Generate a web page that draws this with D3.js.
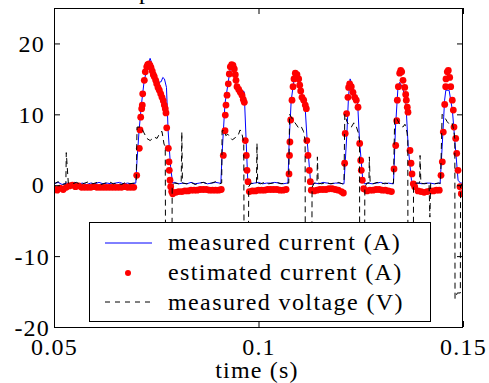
<!DOCTYPE html>
<html><head><meta charset="utf-8">
<script src="https://cdn.jsdelivr.net/npm/d3@7"></script>
<style>body{margin:0;background:#fff} svg{display:block}</style>
</head><body><svg id="c" width="489" height="383"></svg>
<script>
// ---- data (time in ms) ----
const xTicks = [0.05, 0.1, 0.15];
const xTickLabels = ["0.05", "0.1", "0.15"];
const yTicks = [-20, -10, 0, 10, 20];
const yTickLabels = ["-20", "-10", "0", "10", "20"];
const legendLabels = ["measured current (A)", "estimated current (A)", "measured voltage (V)"];
const xLabel = "time (s)";

const measTimeMs = [
50,51,52,53,54,55,56,57,58,59,60,61,62,63,64,65,66,67,68,69,70.0,
70.3,70.8,71.4,72.0,72.7,73.5,74.3,75.5,76.2,76.6,77.0,77.5,77.9,78.5,79.0,
79.5,80.5,81.5,82.5,83.5,84.5,85.5,86.5,87.5,88.5,89.5,90.5,90.8,
91.1,91.8,93.3,94.5,95.7,96.5,97.0,97.4,
98.0,99.0,100,101,102,103,104,105,106,107,107.2,
107.5,108.0,108.8,109.0,110.2,111.4,111.9,112.7,113.1,
113.8,114.8,115.8,116.8,117.8,118.8,119.8,120.6,120.9,
121.6,122.0,122.4,123.1,124.2,124.7,125.5,125.9,
126.8,127.8,128.8,129.8,130.8,131.8,132.8,133.0,
133.5,134.1,134.5,135.2,136.0,136.6,137.4,138.0,
139,140,141,142,143,144,144.4,
144.9,145.5,145.8,146.6,147.4,148.2,148.8,149.4,150];
const measCurrent = [
0.2,0.4,0.1,0.3,0.2,0.4,0.2,0.3,0.1,0.3,0.2,0.4,0.2,0.3,0.2,0.3,0.4,0.2,0.3,0.2,0.3,
3.5,7.7,11.5,14.5,16.5,17.9,16.5,14.5,14.6,15.2,15.0,13.8,7.7,2.6,0.3,
0.4,0.2,0.3,0.2,0.4,0.2,0.3,0.4,0.2,0.3,0.4,0.3,0.3,
4.5,11.5,17.2,14.3,13.4,13.2,6.0,0.3,
0.2,0.3,0.4,0.2,0.3,0.3,0.4,0.3,0.2,0.3,0.3,
6.3,12.0,15.3,15.5,13.8,11.0,6.3,0.7,0.1,
0.3,0.2,0.4,0.3,0.2,0.3,0.3,0.2,0.2,
7.2,12.4,15.0,13.8,12.0,6.3,0.7,0.2,
0.3,0.2,0.3,0.4,0.2,0.3,0.2,0.2,
8.2,13.8,14.5,13.8,12.0,5.4,0.7,0.2,
0.3,0.2,0.3,0.3,0.2,0.3,0.2,
5.4,12.0,13.4,13.4,10.6,4.9,0.7,0.3,0.3];

const estTimeMs = [
50.0,50.75,51.5,52.25,53.0,53.75,54.5,55.25,56.0,56.75,57.5,58.25,59.0,59.75,60.5,61.25,62.0,62.75,63.5,64.25,65.0,65.75,66.5,67.25,68.0,68.75,69.5,
70.22,70.86,71.03,71.20,71.44,71.59,71.69,72.08,72.32,72.67,72.91,73.23,73.47,73.72,74.03,74.28,74.52,74.87,75.11,75.43,75.75,76.09,76.41,76.72,76.97,77.21,77.38,77.56,77.95,78.12,78.19,78.36,78.53,78.78,79.02,
79.8,80.5,81.25,82.0,82.75,83.5,84.25,85.0,85.75,86.5,87.25,88.0,88.75,89.5,90.25,90.9,
91.39,91.81,91.88,92.05,92.30,92.62,92.86,93.11,93.45,93.77,94.08,94.33,94.50,94.74,95.16,95.55,95.97,96.28,96.53,96.77,97.02,97.19,97.43,97.75,
98.5,99.25,100.0,100.75,101.5,102.25,103.0,103.75,104.5,105.25,106.0,106.75,
107.46,107.58,107.68,107.87,108.19,108.44,108.68,109.0,109.41,109.83,110.07,110.32,110.64,111.05,111.44,111.69,111.81,112.1,112.42,112.67,112.91,
113.6,114.3,115.0,115.75,116.5,117.25,118.0,118.75,119.5,120.25,120.75,
121.06,121.2,121.54,121.87,122.04,122.29,122.69,123.1,123.52,123.91,124.33,124.74,124.99,125.13,125.38,125.72,
126.5,127.25,128.0,128.75,129.5,130.25,131.0,131.75,132.5,
133.13,133.55,133.8,133.94,134.19,134.52,134.77,135.01,135.33,135.75,135.99,136.14,136.38,136.55,137.04,137.29,137.53,137.85,138.19,
139.0,139.75,140.5,141.25,142.0,142.75,143.5,144.2,
144.62,144.94,145.18,145.53,145.77,145.84,146.16,146.41,146.75,147.0,147.38,147.63,147.8,148.22,148.46,148.78,149.27,149.59];
const estCurrent = [
-0.5,-0.7,-0.4,-0.6,-0.3,-0.1,0.0,-0.2,-0.1,-0.3,-0.3,-0.3,-0.3,-0.2,-0.3,-0.3,-0.3,-0.3,-0.3,-0.3,-0.3,-0.3,-0.3,-0.2,-0.3,-0.3,-0.3,
1.4,5.2,7.8,9.6,10.8,11.3,12.9,14.8,16.0,16.7,17.0,17.1,16.9,16.6,16.1,15.6,15.3,14.8,14.3,13.8,13.4,12.9,12.4,11.9,11.3,10.8,10.2,8.1,5.2,3.3,2.1,0.7,-0.2,-0.9,-1.2,
-1.0,-0.9,-0.9,-0.8,-0.8,-0.7,-0.7,-0.7,-0.6,-0.6,-0.6,-0.7,-0.7,-0.7,-0.7,-0.6,
4.2,7.7,9.9,11.3,12.7,14.3,15.7,16.7,17.0,16.9,16.4,15.6,14.8,13.9,13.5,13.1,12.7,12.1,11.7,6.3,4.2,2.1,0.5,-0.9,
-0.8,-0.8,-0.7,-0.7,-0.7,-0.6,-0.6,-0.6,-0.6,-0.7,-0.7,-0.6,
1.6,4.2,6.1,9.2,12.0,13.9,15.0,15.8,15.6,15.0,14.1,13.3,12.4,12.0,11.3,10.8,6.3,4.2,2.1,0.5,-0.7,
-0.8,-0.7,-0.6,-0.6,-0.6,-0.5,-0.5,-0.6,-0.7,-0.9,-1.1,
3.1,7.3,10.1,12.4,13.8,14.3,13.9,13.1,12.4,12.0,11.0,5.9,3.5,2.1,0.7,-0.5,
-0.8,-0.7,-0.7,-0.6,-0.6,-0.7,-0.7,-0.8,-0.9,
2.3,5.6,9.1,12.0,13.9,15.8,16.2,16.0,14.8,13.8,12.8,12.0,11.0,10.3,4.9,3.1,1.6,0.2,-0.2,
-0.8,-0.9,-1.0,-0.9,-0.8,-0.8,-0.7,-0.7,
1.4,3.3,7.5,11.4,13.9,15.0,16.0,16.2,15.2,13.9,12.0,10.6,8.2,6.6,4.5,2.1,-0.2,-1.2];

const voltTimeMs = [
50,51,52,52.9,53.0,53.5,54.5,55.5,56.5,57.5,58.5,59.5,60.5,61.5,62.5,63.5,64.5,65.5,66.5,67.5,68.5,69.5,70.1,
70.3,71.3,71.9,72.7,73.5,74.5,75.2,75.9,76.4,76.9,77.2,77.3,78.8,78.9,
79.5,80.5,81.1,81.25,81.4,82.5,83.5,84.5,85.5,86.5,87.5,88.5,89.5,90.5,91.0,
91.1,91.6,92.0,92.5,93.0,93.6,94.3,95.0,95.5,95.9,96.4,96.5,97.5,97.6,
98.2,99.0,99.5,99.63,99.8,100.5,101.5,102.5,103.5,104.5,105.5,106.5,107.4,
107.6,108.1,108.7,109.3,109.9,110.5,111.0,111.4,111.45,113.0,113.1,
113.6,114.3,114.4,114.6,115.5,116.5,117.5,118.5,119.5,120.5,120.9,
121.1,121.6,122.1,122.7,123.3,123.9,124.4,124.7,124.75,125.9,126.0,
126.5,127.0,127.1,127.3,128.0,129.0,130.0,131.0,132.0,133.0,
133.3,133.9,134.6,135.3,135.8,136.3,136.5,136.55,137.85,137.9,
138.4,139.4,139.5,139.7,140.5,141.7,141.9,142.1,143.0,144.0,144.5,
144.9,145.5,146.1,146.8,147.4,147.8,148.0,148.05,148.6,149.35,149.4,150];
const voltage = [
0.2,0.5,0.1,0.2,4.6,0.3,0.2,0.4,0.1,0.3,0.5,0.2,0.4,0.1,0.3,0.5,0.2,0.3,0.1,0.4,0.2,0.3,0.4,
8.2,8.2,7.5,6.6,6.3,6.8,6.6,7.4,7.6,5.8,5.5,-16,-16,0.0,
0.3,0.2,0.3,7.5,0.3,0.2,0.4,0.1,0.3,0.4,0.2,0.3,0.5,0.2,0.3,
7.7,7.7,7.0,7.2,6.8,6.4,6.7,7.0,7.8,7.4,6.0,-16,-16,-0.2,
0.3,0.2,0.3,5.9,0.3,0.2,0.4,0.2,0.3,0.4,0.2,0.3,0.3,
10.0,9.5,9.0,8.5,8.0,8.2,7.6,6.3,-16,-16,-0.3,
0.3,0.3,4.0,0.3,0.2,0.4,0.2,0.3,0.4,0.2,0.3,
10.0,9.0,8.5,8.2,8.8,8.3,7.4,6.3,-16,-16,-0.3,
0.3,0.3,4.0,0.3,0.2,0.4,0.2,0.3,0.2,0.3,
9.6,9.3,8.5,8.2,8.6,7.5,6.3,-16,-16,-0.3,
0.3,0.3,4.2,0.3,0.2,0.3,-4.5,0.3,0.2,0.3,0.3,
10.0,9.6,9.0,8.5,8.7,7.5,6.5,-16,-15.2,-15.2,0.0,0.2];

// ---- layout ----
const L = 54, R = 463, T = 8, B = 327;
const font = '"Liberation Serif","Times New Roman",Times,serif';
const svg = d3.select("#c");
svg.append("rect").attr("width", 489).attr("height", 383).attr("fill", "#fff");

const x = d3.scaleLinear().domain([0.05, 0.15]).range([L, R]);
const y = d3.scaleLinear().domain([-20, 25]).range([B, T]);

svg.append("clipPath").attr("id", "clip").append("rect")
  .attr("x", L).attr("y", T).attr("width", R - L).attr("height", B - T);
const plot = svg.append("g").attr("clip-path", "url(#clip)");

const line = d3.line().x(d => x(d[0] / 1000)).y(d => y(d[1]));
const meas = d3.zip(measTimeMs, measCurrent);
const est = d3.zip(estTimeMs, estCurrent);
const volt = d3.zip(voltTimeMs, voltage);

plot.append("path").datum(meas).attr("d", line)
  .attr("fill", "none").attr("stroke", "#0000ff").attr("stroke-width", 1);
plot.selectAll("circle.est").data(est).join("circle").attr("class", "est")
  .attr("cx", d => x(d[0] / 1000)).attr("cy", d => y(d[1])).attr("r", 3.4).attr("fill", "#ff0000");
plot.append("path").datum(volt).attr("d", line)
  .attr("fill", "none").attr("stroke", "#000").attr("stroke-width", 1).attr("stroke-dasharray", "6,4");

// ---- axes ----
function styleAxis(g) {
  g.select(".domain").remove();
  g.attr("font-family", font).attr("font-size", 24);
  g.selectAll("text").attr("fill", "#000").attr("letter-spacing", 1.2);
  g.selectAll("line").attr("stroke", "#000");
}
svg.append("g").attr("transform", `translate(0,${B})`)
  .call(d3.axisBottom(x).tickValues(xTicks).tickFormat((d, i) => xTickLabels[i]).tickSize(-6).tickPadding(11))
  .call(styleAxis);
svg.append("g").attr("transform", `translate(0,${T})`)
  .call(d3.axisTop(x).tickValues(xTicks).tickFormat("").tickSize(-6))
  .call(styleAxis);
const yl = svg.append("g").attr("transform", `translate(${L},0)`)
  .call(d3.axisLeft(y).tickValues(yTicks).tickFormat((d, i) => yTickLabels[i]).tickSize(-6).tickPadding(9))
  .call(styleAxis);
yl.selectAll(".tick text").attr("dx", d => d < 0 ? 5 : 0).attr("dy", d => d < 0 ? "0.36em" : "0.32em");
svg.append("g").attr("transform", `translate(${R},0)`)
  .call(d3.axisRight(y).tickValues(yTicks).tickFormat("").tickSize(-6))
  .call(styleAxis);

svg.append("rect").attr("x", L + 0.5).attr("y", T + 0.5).attr("width", R - L - 1).attr("height", B - T)
  .attr("fill", "none").attr("stroke", "#000").attr("stroke-width", 1);

// axis label
svg.append("text").attr("x", 257).attr("y", 378).attr("text-anchor", "middle")
  .attr("font-family", font).attr("font-size", 24).attr("letter-spacing", 1.2).text(xLabel);

// clipped title fragment at the top
svg.append("text").attr("x", 139).attr("y", -1)
  .attr("font-family", font).attr("font-size", 24).text("p");

// ---- legend ----
const lg = svg.append("g");
lg.append("rect").attr("x", 89.5).attr("y", 222.5).attr("width", 341).attr("height", 99)
  .attr("fill", "#fff").attr("stroke", "#000").attr("stroke-width", 1);
const rows = [250, 280, 310];
lg.append("line").attr("x1", 105).attr("x2", 152).attr("y1", 243).attr("y2", 243)
  .attr("stroke", "#0000ff").attr("stroke-width", 1);
lg.append("circle").attr("cx", 128).attr("cy", 273).attr("r", 3).attr("fill", "#ff0000");
lg.append("line").attr("x1", 105).attr("x2", 152).attr("y1", 302).attr("y2", 302)
  .attr("stroke", "#000").attr("stroke-width", 1).attr("stroke-dasharray", "5,5");
lg.selectAll("text.lab").data(legendLabels).join("text").attr("class", "lab")
  .attr("x", 168).attr("y", (d, i) => rows[i])
  .attr("font-family", font).attr("font-size", 24).attr("letter-spacing", 1.4)
  .text(d => d);
</script></body></html>
